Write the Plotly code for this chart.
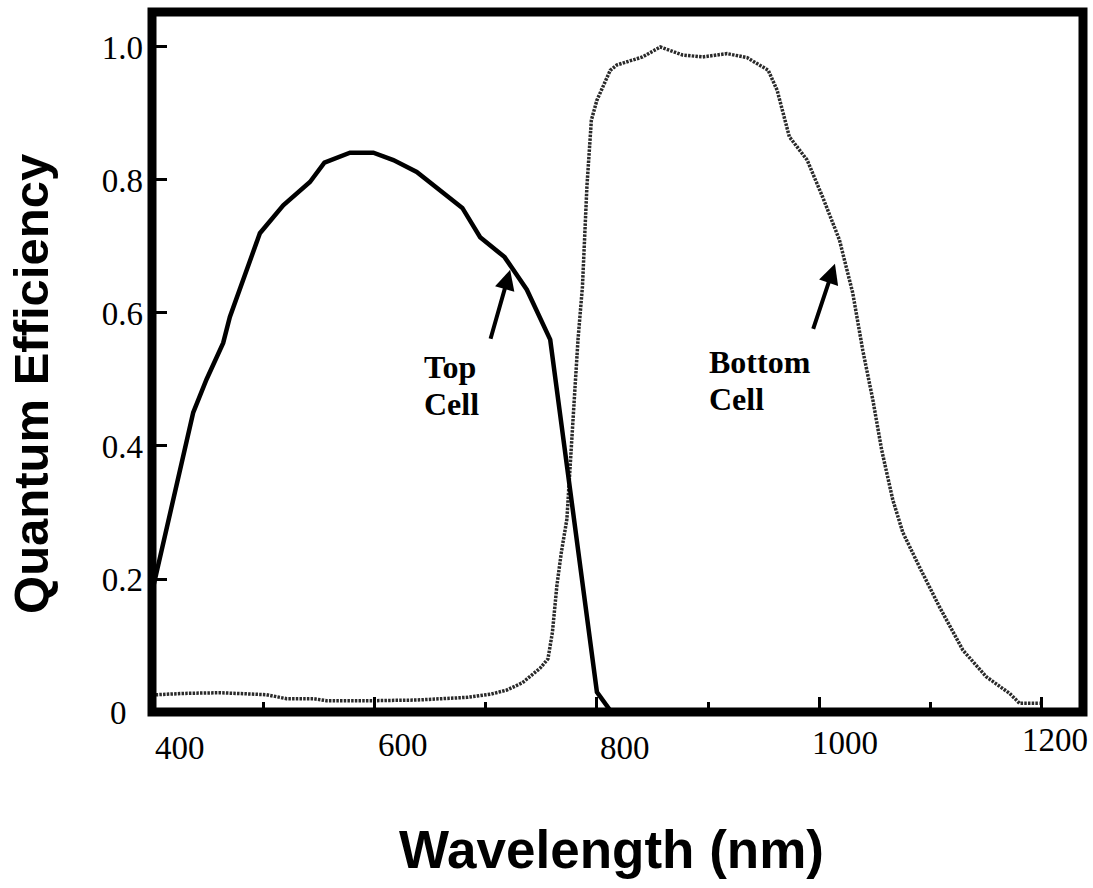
import plotly.graph_objects as go

# ---- data ----
top_nm = [400, 418, 437, 449, 464, 470, 497, 518, 542, 555, 578, 599, 617, 638, 659, 679, 695, 717, 737, 749, 758, 800, 813]
top_qe = [0.18, 0.31, 0.45, 0.50, 0.555, 0.594, 0.72, 0.762, 0.797, 0.826, 0.841, 0.841, 0.83, 0.812, 0.785, 0.758, 0.714, 0.684, 0.635, 0.594, 0.56, 0.03, 0.0]

bot_nm = [400, 404, 430, 461, 503, 521, 545, 557, 599, 638, 683, 705, 719, 733, 749, 756, 760, 764, 768, 773,
          780, 783, 787, 791, 795, 800, 812, 818, 841, 857, 877, 895, 917, 935, 954, 962, 973, 989, 1003,
          1018, 1030, 1039, 1048, 1056, 1066, 1075, 1090, 1108, 1129, 1150, 1171, 1180, 1198]
bot_qe = [0.025, 0.026, 0.028, 0.029, 0.026, 0.02, 0.02, 0.017, 0.017, 0.018, 0.022, 0.027, 0.033, 0.044, 0.066, 0.08,
          0.12, 0.19, 0.24, 0.29, 0.48, 0.56, 0.64, 0.79, 0.89, 0.92, 0.965, 0.973, 0.985, 1.0, 0.988, 0.985, 0.99,
          0.984, 0.965, 0.935, 0.865, 0.83, 0.774, 0.71, 0.63, 0.544, 0.47, 0.394, 0.319, 0.27, 0.218, 0.158,
          0.093, 0.053, 0.028, 0.013, 0.013]

x_ticks = [400, 600, 800, 1000, 1200]
x_tick_text = ["400", "600", "800", "1000", "1200"]
y_ticks = [0, 0.2, 0.4, 0.6, 0.8, 1.0]
y_tick_text = ["0\u2007", "0.2", "0.4", "0.6", "0.8", "1.0"]

label_lines = [["Top", "Cell"], ["Bottom", "Cell"]]
label_nm = [644, 900]
label_qe = [[0.519, 0.463], [0.527, 0.471]]
arrow_head_nm = [722, 1014]
arrow_head_qe = [0.665, 0.674]
arrow_tail_nm = [704, 994]
arrow_tail_qe = [0.559, 0.574]

serif = "Liberation Serif, Times New Roman, serif"
sans = "Liberation Sans, Arial, sans-serif"

fig = go.Figure()
fig.add_trace(go.Scatter(x=bot_nm, y=bot_qe, mode="lines",
                         line=dict(color="#2a2a2a", width=3.5, dash="2.5px,1.2px"),
                         showlegend=False))
fig.add_trace(go.Scatter(x=top_nm, y=top_qe, mode="lines",
                         line=dict(color="black", width=4.5),
                         showlegend=False))

annotations = []
# x tick labels (offset as in the scanned original)
x_shift = [28, 29, 28, 26, 13]
x_yshift = [-36, -33, -36, -31, -28]
for v, t, s, ys in zip(x_ticks, x_tick_text, x_shift, x_yshift):
    annotations.append(dict(x=v, y=0, xref="x", yref="y", text=t, showarrow=False,
                            xanchor="center", yanchor="middle", xshift=s, yshift=ys,
                            font=dict(family=serif, size=33, color="black")))

for lines, x, ys in zip(label_lines, label_nm, label_qe):
    for t, y in zip(lines, ys):
        annotations.append(dict(x=x, y=y, xref="x", yref="y", text="<b>" + t + "</b>", showarrow=False,
                                xanchor="left", yanchor="middle", align="left", borderpad=0,
                                font=dict(family=serif, size=32, color="black")))

for hx, hy, tx, ty in zip(arrow_head_nm, arrow_head_qe, arrow_tail_nm, arrow_tail_qe):
    annotations.append(dict(x=hx, y=hy, ax=tx, ay=ty, xref="x", yref="y", axref="x", ayref="y",
                            text="", showarrow=True, arrowhead=2, arrowsize=1.0, arrowwidth=4,
                            arrowcolor="black"))

annotations.append(dict(x=(31 - 152) / 931, y=0.4686, xref="paper", yref="paper",
                        text="<b>Quantum Efficiency</b>", textangle=-90, showarrow=False,
                        xanchor="center", yanchor="middle",
                        font=dict(family=sans, size=49, color="black")))
annotations.append(dict(x=0.494, y=-0.197, xref="paper", yref="paper",
                        text="<b>Wavelength (nm)</b>", showarrow=False,
                        xanchor="center", yanchor="middle",
                        font=dict(family=sans, size=53, color="black")))

fig.update_layout(
    width=1093, height=888,
    margin=dict(l=152, r=10, t=12, b=176),
    paper_bgcolor="white", plot_bgcolor="white",
    annotations=annotations,
    shapes=[dict(type="rect", xref="paper", yref="paper", x0=0, x1=1, y0=0, y1=1,
                 line=dict(color="black", width=9), layer="above")],
    xaxis=dict(range=[400, 1237], showgrid=False, zeroline=False, showline=False,
               tickmode="array", tickvals=x_ticks, showticklabels=False,
               ticks="inside", ticklen=15, tickwidth=3, tickcolor="black",
               minor=dict(dtick=100, tick0=400, ticks="inside", ticklen=10, tickwidth=3, tickcolor="black")),
    yaxis=dict(range=[0, 1.0526], showgrid=False, zeroline=False, showline=False,
               tickmode="array", tickvals=y_ticks, ticktext=y_tick_text,
               ticks="inside", ticklen=15, tickwidth=3, tickcolor="black",
               ticklabelstandoff=8,
               tickfont=dict(family=serif, size=33, color="black")),
)

fig.write_html("out.html")
